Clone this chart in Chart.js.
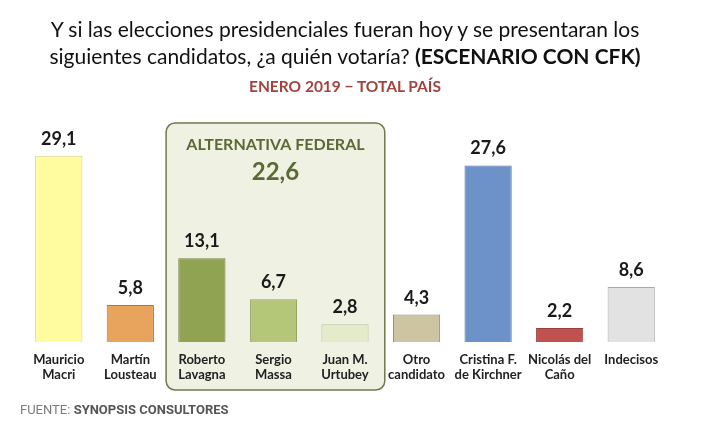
<!DOCTYPE html>
<html>
<head>
<meta charset="utf-8">
<script src="https://cdn.jsdelivr.net/npm/chart.js@4"></script>
<style>
  html, body { margin: 0; padding: 0; background: #fff; }
  #wrap { position: relative; width: 721px; height: 432px; overflow: hidden; }
  #myChart { position: absolute; left: 0; top: 0; }
  .title { position: absolute; left: 0; width: 690px; text-align: center; font-family: Lato, sans-serif; font-size: 21px; color: #111; white-space: nowrap; }
  .sub { position: absolute; left: 0; width: 690px; top: 77px; text-align: center; font-family: Lato, sans-serif; font-weight: bold; font-size: 15.5px; color: #a3433d; }
  .foot { position: absolute; left: 20px; top: 402px; font-family: Roboto, sans-serif; font-size: 13px; color: #7a7a7a; }
  .foot b { color: #555; }
</style>
</head>
<body>
<div id="wrap">
  <canvas id="myChart" width="721" height="432"></canvas>
  <div class="title" style="top:16px">Y si las elecciones presidenciales fueran hoy y se presentaran los</div>
  <div class="title" style="top:43px">siguientes candidatos, ¿a quién votaría? <b>(ESCENARIO CON CFK)</b></div>
  <div class="sub">ENERO 2019 &#8722; TOTAL PAÍS</div>
  <div class="foot">FUENTE: <b>SYNOPSIS CONSULTORES</b></div>
</div>
<script>
const candidates = [
    ['Mauricio', 'Macri'],
    ['Martín', 'Lousteau'],
    ['Roberto', 'Lavagna'],
    ['Sergio', 'Massa'],
    ['Juan M.', 'Urtubey'],
    ['Otro', 'candidato'],
    ['Cristina F.', 'de Kirchner'],
    ['Nicolás del', 'Caño'],
    ['Indecisos']
];
const votes = [29.1, 5.8, 13.1, 6.7, 2.8, 4.3, 27.6, 2.2, 8.6];
const groupName = 'ALTERNATIVA FEDERAL';
const groupTotal = 22.6;
const groupFirst = 2;
const groupLast = 4;

const fills = ['#fffb9e', '#e8a45c', '#8fa353', '#b4c779', '#e3ebca', '#cdc5a1', '#6d91c9', '#c0524e', '#e2e2e2'];
const borders = ['#d8d28c', '#b07640', '#6e7f3c', '#8ea05c', '#b8c49a', '#8a8469', '#50729f', '#98403c', '#a8a8a8'];

function fmt(v) {
    return v.toFixed(1).replace('.', ',');
}

// shaded box behind the Alternativa Federal candidates, drawn before axes and bars
const groupBox = {
    id: 'groupBox',
    beforeDraw(chart) {
        const ctx = chart.ctx;
        const x = chart.scales.x;
        const step = x.getPixelForValue(1) - x.getPixelForValue(0);
        const left = x.getPixelForValue(groupFirst) - step / 2;
        const right = x.getPixelForValue(groupLast) + step / 2 + 4;
        const top = 123, bottom = 390;
        ctx.save();
        ctx.beginPath();
        ctx.roundRect(left, top, right - left, bottom - top, 9);
        ctx.fillStyle = '#eff1e3';
        ctx.fill();
        ctx.lineWidth = 1.5;
        ctx.strokeStyle = '#6e7a4c';
        ctx.stroke();
        const cx = (left + right) / 2;
        ctx.fillStyle = '#5b6a35';
        ctx.textAlign = 'center';
        ctx.textBaseline = 'alphabetic';
        ctx.font = 'bold 16px Lato, sans-serif';
        ctx.fillText(groupName, cx, 150);
        ctx.font = 'bold 24px Lato, sans-serif';
        ctx.fillText(fmt(groupTotal), cx, 180);
        ctx.restore();
    }
};

const valueLabels = {
    id: 'valueLabels',
    afterDatasetsDraw(chart) {
        const ctx = chart.ctx;
        const meta = chart.getDatasetMeta(0);
        ctx.save();
        ctx.fillStyle = '#1a1a1a';
        ctx.font = 'bold 18px Lato, sans-serif';
        ctx.textAlign = 'center';
        ctx.textBaseline = 'alphabetic';
        meta.data.forEach(function (bar, i) {
            ctx.fillText(fmt(votes[i]), bar.x, bar.y - 11);
        });
        ctx.restore();
    }
};

function init() {
    const ctx = document.getElementById('myChart');
    new Chart(ctx, {
        type: 'bar',
        data: {
            labels: candidates,
            datasets: [{
                data: votes,
                backgroundColor: fills,
                borderColor: borders,
                borderWidth: 1,
                categoryPercentage: 1,
                barPercentage: 0.66
            }]
        },
        options: {
            responsive: false,
            animation: false,
            layout: {
                padding: { top: 86, left: 23, right: 54, bottom: 40 }
            },
            plugins: {
                legend: { display: false },
                tooltip: { enabled: false }
            },
            scales: {
                y: {
                    display: false,
                    min: 0,
                    max: 40
                },
                x: {
                    grid: { display: false, drawTicks: false },
                    border: { display: false },
                    ticks: {
                        padding: 10,
                        color: '#222',
                        maxRotation: 0,
                        autoSkip: false,
                        font: { family: 'Lato, sans-serif', weight: 'bold', size: 13, lineHeight: 1.15 }
                    }
                }
            }
        },
        plugins: [groupBox, valueLabels]
    });
}

window.addEventListener('load', init);
</script>
</body>
</html>
